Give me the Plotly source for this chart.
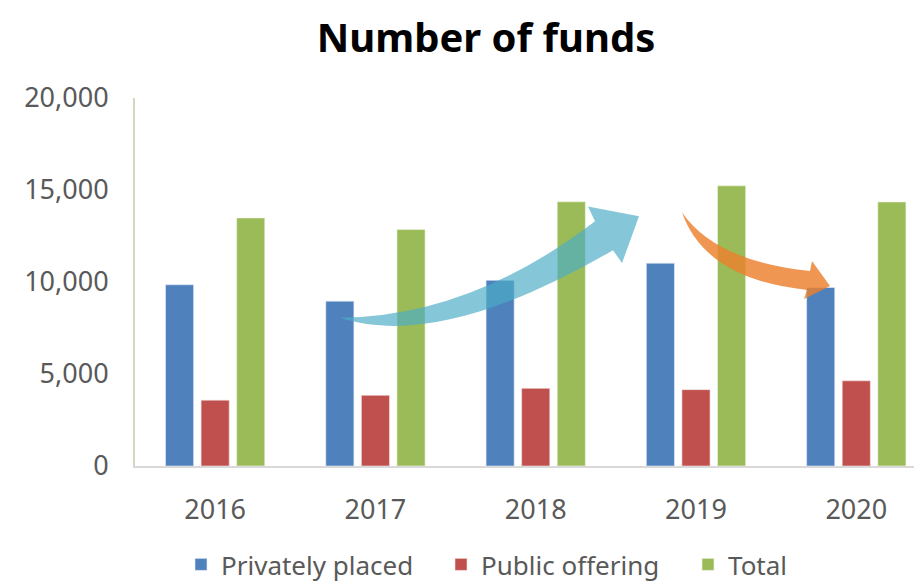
import plotly.graph_objects as go

years = ["2016", "2017", "2018", "2019", "2020"]
privately_placed = [9850, 8960, 10090, 11020, 9700]
public_offering = [3580, 3840, 4220, 4150, 4630]
total = [13480, 12850, 14360, 15230, 14350]

# page puts the figure 8px in from the top-left corner, so shrink to fit
OFF = 8
W, H = 922 - OFF, 588 - OFF
# plot area in page pixels: x 135..922, y 98..468
PL, PR, PT, PB = 135, 922, 98, 468


def to_paper(px, py):
    # page pixel -> paper coords of the plot area
    return (px - PL) / (PR - PL), (PB - py) / (PB - PT)


def path(cmds):
    out = []
    for c in cmds:
        if isinstance(c, str):
            out.append(c)
        else:
            x, y = to_paper(*c)
            out.append(f"{x:.4f},{y:.4f}")
    return " ".join(out)


fig = go.Figure()
fig.add_trace(go.Bar(x=years, y=privately_placed, name="Privately placed", legend="legend",
                     marker=dict(color="#4f81bd", line=dict(color="#e6edf6", width=0.6))))
fig.add_trace(go.Bar(x=years, y=public_offering, name="Public offering", legend="legend2",
                     marker=dict(color="#c0504d", line=dict(color="#f3e2e1", width=0.6))))
fig.add_trace(go.Bar(x=years, y=total, name="Total", legend="legend3",
                     marker=dict(color="#9bbb59", line=dict(color="#eef3e4", width=0.6))))

# decorative trend arrows
blue_arrow = path(["M", (340, 319), "Q", (470, 318), (595, 222),
                   "L", (588, 207), "L", (639, 217), "L", (622, 264), "L", (613, 251),
                   "C", (520, 305), (420, 345), (340, 319), "Z"])
orange_arrow = path(["M", (682, 213), "Q", (715, 262), (810, 272),
                     "L", (812, 262), "L", (830, 287), "L", (804, 300), "L", (807, 291),
                     "Q", (705, 280), (682, 213), "Z"])

fig.add_shape(type="path", path=blue_arrow, xref="paper", yref="paper",
              fillcolor="rgba(75,172,198,0.68)", line=dict(width=0))
fig.add_shape(type="path", path=orange_arrow, xref="paper", yref="paper",
              fillcolor="rgba(236,128,44,0.82)", line=dict(width=0))

leg_y = (PB - 567) / (PB - PT)
leg_common = dict(orientation="h", xanchor="left", y=leg_y, yanchor="middle",
                  font=dict(size=26, color="#595959"), bgcolor="rgba(0,0,0,0)")

fig.update_layout(
    width=W, height=H,
    margin=dict(l=PL - OFF, r=W - (PR - OFF), t=PT - OFF, b=H - (PB - OFF)),
    paper_bgcolor="white", plot_bgcolor="white",
    font=dict(family="Noto Sans", color="#595959"),
    title=dict(text="<b>Number of funds</b>", x=(486 - OFF) / W, xanchor="center",
               y=1 - (38 - OFF) / H, yanchor="middle",
               font=dict(size=40, color="black", family="Noto Sans")),
    barmode="group", bargap=0.334, bargroupgap=0.21,
    showlegend=True,
    legend=dict(x=to_paper(203 - 22, 0)[0], **leg_common),
    legend2=dict(x=to_paper(463 - 22, 0)[0], **leg_common),
    legend3=dict(x=to_paper(710 - 22, 0)[0], **leg_common),
)

fig.update_xaxes(range=[-0.5, 4.41], showline=True, linecolor="#d9d9d9", linewidth=2,
                 showgrid=False, ticks="", tickfont=dict(size=27, color="#595959"),
                 ticklabelstandoff=19)
fig.update_yaxes(range=[0, 20000], dtick=5000, tickformat=",", showline=True,
                 linecolor="#d8d6c0", linewidth=2, showgrid=False, zeroline=False,
                 ticks="", tickfont=dict(size=27, color="#595959"),
                 ticklabelstandoff=19)

fig.write_html("out.html")
